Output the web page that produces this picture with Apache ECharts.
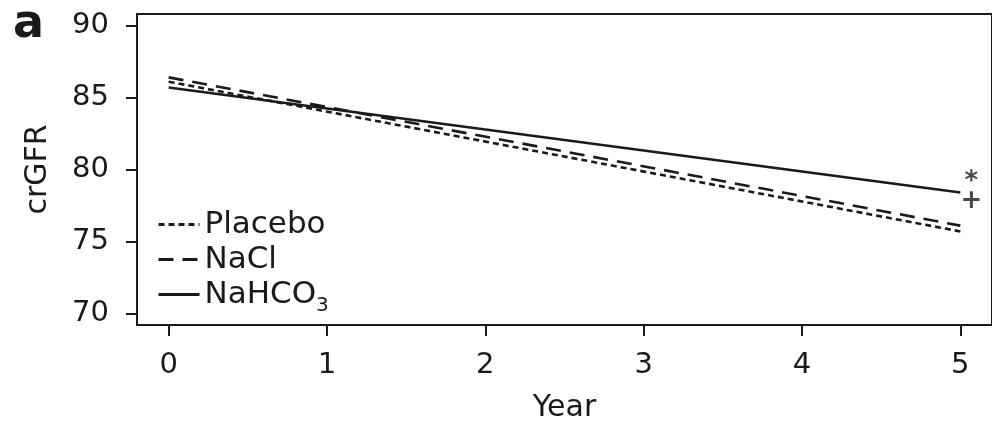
<!DOCTYPE html>
<html>
<head>
<meta charset="utf-8">
<script src="https://cdn.jsdelivr.net/npm/echarts@6/dist/echarts.min.js"></script>
<style>
  html, body { margin: 0; padding: 0; background: #fff; }
  #chart { width: 992px; height: 431px; }
</style>
</head>
<body>
<div id="chart"></div>
<script>
// crGFR over 5 years, fitted lines per treatment group
const years = [0, 5];
const placebo = [86.1, 75.7];
const nacl = [86.4, 76.1];
const nahco3 = [85.7, 78.4];

// significance markers at the end of the NaHCO3 line
const markerX = [5.07, 5.07];
const markerY = [79.1, 77.8];
const markerText = ["*", "+"];

const xTicks = [0, 1, 2, 3, 4, 5];
const yTicks = [70, 75, 80, 85, 90];

const chart = echarts.init(document.getElementById("chart"));
const FONT = "DejaVu Sans";
const INK = "#1a1a1a";

const pairs = (xs, ys) => xs.map((x, i) => [x, ys[i]]);

chart.setOption({
  backgroundColor: "#ffffff",
  animation: false,
  textStyle: { fontFamily: FONT },
  title: {
    text: "a",
    left: 8,
    top: -3,
    textStyle: { fontFamily: FONT, fontSize: 46, fontWeight: "bold", color: INK },
  },
  grid: { left: 137, top: 14, width: 859, height: 311, show: true, borderColor: INK, borderWidth: 2 },
  legend: {
    data: ["Placebo", "NaCl", "NaHCO3"],
    orient: "vertical",
    left: 152,
    top: 204,
    itemWidth: 41,
    itemHeight: 14,
    itemGap: 4,
    itemStyle: { opacity: 0 }, // hide the default circle, keep the line
    lineStyle: { width: 3 },
    textStyle: {
      fontFamily: FONT,
      fontSize: 31,
      color: INK,
      lineHeight: 31,
      rich: {
        n: { fontFamily: FONT, fontSize: 31, color: INK, lineHeight: 31, verticalAlign: "top" },
        sub: { fontFamily: FONT, fontSize: 20, color: INK, lineHeight: 20, verticalAlign: "top", padding: [17, 0, 0, 0] },
      },
    },
    formatter: (name) => (name === "NaHCO3" ? "{n|NaHCO}{sub|3}" : name),
  },
  xAxis: {
    type: "value",
    min: -0.2,
    max: 5.2,
    name: "Year",
    nameLocation: "middle",
    nameGap: 68,
    nameTextStyle: { fontFamily: FONT, fontSize: 30, color: INK },
    axisLine: { show: true, onZero: false, lineStyle: { color: INK, width: 2 } },
    axisTick: { show: true, length: 11, customValues: xTicks, lineStyle: { color: INK, width: 2 } },
    axisLabel: { customValues: xTicks, margin: 26, fontFamily: FONT, fontSize: 29, color: INK },
    splitLine: { show: false },
  },
  yAxis: {
    type: "value",
    min: 69.2,
    max: 90.8,
    name: "crGFR",
    nameLocation: "middle",
    nameGap: 84,
    nameRotate: 90,
    nameTextStyle: { fontFamily: FONT, fontSize: 30, color: INK },
    axisLine: { show: true, onZero: false, lineStyle: { color: INK, width: 2 } },
    axisTick: { show: true, length: 11, customValues: yTicks, lineStyle: { color: INK, width: 2 } },
    axisLabel: { customValues: yTicks, margin: 28, fontFamily: FONT, fontSize: 29, color: INK },
    splitLine: { show: false },
  },
  series: [
    {
      name: "Placebo",
      type: "line",
      symbol: "none",
      color: INK,
      lineStyle: { color: INK, width: 2.6, type: [6, 4] },
      data: pairs(years, placebo),
    },
    {
      name: "NaCl",
      type: "line",
      symbol: "none",
      color: INK,
      lineStyle: { color: INK, width: 2.6, type: [15, 9] },
      data: pairs(years, nacl),
    },
    {
      name: "NaHCO3",
      type: "line",
      symbol: "none",
      color: INK,
      lineStyle: { color: INK, width: 2.6, type: "solid" },
      data: pairs(years, nahco3),
    },
    {
      name: "markers",
      type: "scatter",
      symbolSize: 1,
      itemStyle: { color: "rgba(0,0,0,0)" },
      label: {
        show: true,
        position: "inside",
        fontFamily: FONT,
        fontSize: 26,
        fontWeight: "bold",
        color: INK,
        formatter: (p) => p.data.name,
      },
      data: markerX.map((x, i) => ({ value: [x, markerY[i]], name: markerText[i] })),
    },
  ],
});

window.addEventListener("resize", () => chart.resize());
</script>
</body>
</html>
